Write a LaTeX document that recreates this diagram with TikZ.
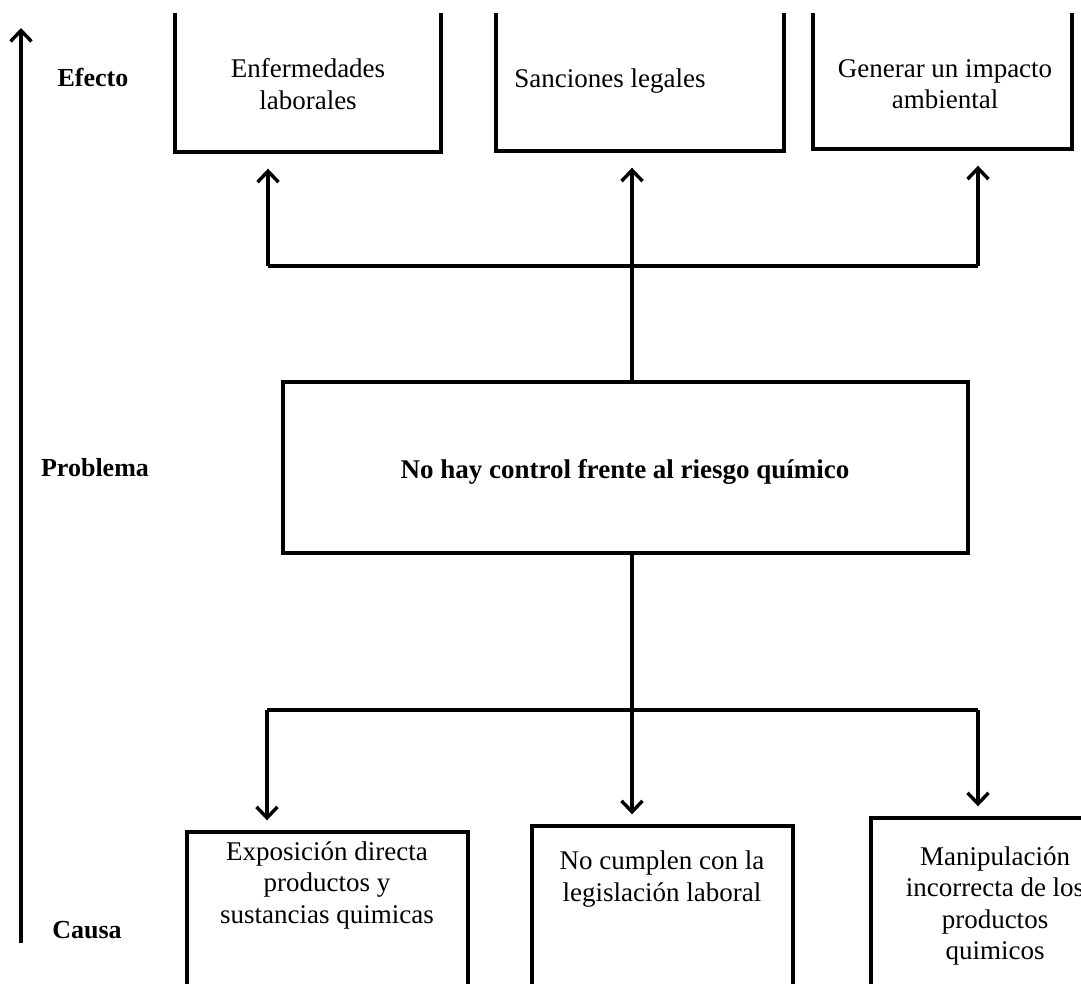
\documentclass[tikz,border=0pt]{standalone}
\usepackage{fontspec}
\setmainfont{Liberation Serif}
\usetikzlibrary{arrows.meta,calc}
\begin{document}
\begin{tikzpicture}[x=1pt,y=-1pt,
  line width=3.4pt,
  boxnode/.style={draw, rectangle, inner sep=0pt},
  boxtext/.style={align=center, inner sep=0pt, font=\fontsize{27pt}{31.5pt}\selectfont},
  sidelabel/.style={inner sep=0pt, font=\fontsize{26pt}{30pt}\selectfont\bfseries},
  arr/.style={-{Straight Barb[length=11pt,width=21pt]}}
]
\useasboundingbox (0,0) rectangle (1081,983);
\fill[white] (0,0) rectangle (1081,983);

\begin{scope}
\clip (0,13) rectangle (1081,983);
% effect boxes (top edges cut off)
\node[boxnode, minimum width=266pt, minimum height=144pt] (e1) at (308,80) {};
\node[boxnode, minimum width=288pt, minimum height=143pt] (e2) at (640,79.5) {};
\node[boxnode, minimum width=259pt, minimum height=141pt] (e3) at (942.5,78.5) {};
% problem box
\node[boxnode, minimum width=685pt, minimum height=171pt] (p) at (625.5,467.5) {};
% cause boxes (bottom edges cut off)
\node[boxnode, minimum width=281pt, minimum height=168pt] (c1) at (327.5,916) {};
\node[boxnode, minimum width=261pt, minimum height=174pt] (c2) at (662.5,913) {};
\node[boxnode, minimum width=249pt, minimum height=182pt] (c3) at (995.5,909) {};

% texts
\node[boxtext] (t1) at (308,84) {Enfermedades\\laborales};
\node[boxtext] (t2) at (610,81) {Sanciones legales};
\node[boxtext] (t3) at (945,84) {Generar un impacto\\ambiental};
\node[boxtext, font=\fontsize{27pt}{31.5pt}\selectfont\bfseries] (tp) at (625,472) {No hay control frente al riesgo químico};
\node[boxtext] (ta) at (327,885) {Exposición directa\\productos y\\sustancias quimicas};
\node[boxtext] (tb) at (662,879) {No cumplen con la\\legislación laboral};
\node[boxtext] (tc) at (995,906) {Manipulación\\incorrecta de los\\productos\\quimicos};
\end{scope}

% side labels
\node[sidelabel] (lef) at (93,77) {Efecto};
\node[sidelabel] (lpr) at (95,468) {Problema};
\node[sidelabel] (lca) at (87,930) {Causa};

% vertical axis arrow
\coordinate (ax0) at (21,943);
\coordinate (ax1) at (21,28);
\draw[arr] (ax0) -- (ax1);

% effect branches
\coordinate (tl) at (268,266);
\coordinate (tm) at (632,266);
\coordinate (tr) at (978,266);
\draw (p.north -| tm) -- (tm);
\draw (tl) -- (tr);
\draw[arr] (tl) -- ($(tl |- e1.south)+(0,15)$);
\draw[arr] (tm) -- ($(tm |- e2.south)+(0,15)$);
\draw[arr] (tr) -- ($(tr |- e3.south)+(0,15)$);

% cause branches
\coordinate (bl) at (267,710);
\coordinate (bm) at (632,710);
\coordinate (br) at (978,710);
\draw (p.south -| bm) -- (bm);
\draw (bl) -- (br);
\draw[arr] (bl) -- ($(bl |- c1.north)+(0,-10)$);
\draw[arr] (bm) -- ($(bm |- c2.north)+(0,-10)$);
\draw[arr] (br) -- ($(br |- c3.north)+(0,-10)$);
\end{tikzpicture}
\end{document}
